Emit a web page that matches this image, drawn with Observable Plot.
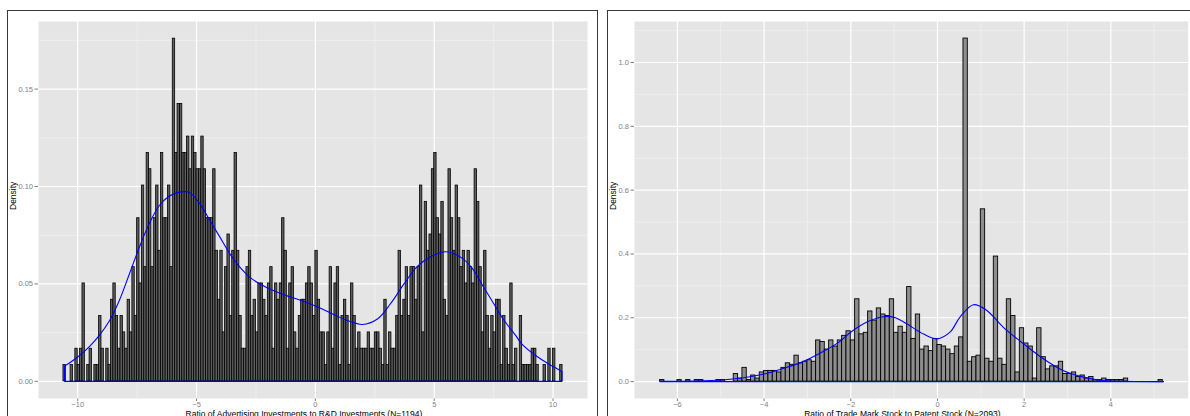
<!DOCTYPE html>
<html><head><meta charset="utf-8">
<script src="https://cdn.jsdelivr.net/npm/d3@7"></script>
<script src="https://cdn.jsdelivr.net/npm/@observablehq/plot@0.6"></script>
<style>
html,body{margin:0;padding:0;background:#fff;}
#wrap{position:relative;width:1190px;height:416px;overflow:hidden;font-family:"Liberation Sans",Arial,Helvetica,sans-serif;}
.frame{position:absolute;border:1.5px solid #3a3a3a;box-sizing:border-box;pointer-events:none;}
.chart{position:absolute;top:0;}
</style></head><body><div id="wrap">
<div class="chart" id="left" style="left:0px"></div>
<div class="chart" id="right" style="left:597px"></div>
<div class="frame" style="left:7px;top:10px;width:591px;height:440px"></div>
<div class="frame" style="left:607px;top:10px;width:600px;height:440px"></div>
</div>
<script>
// ---------- data ----------
const leftTitle = "Ratio of Advertising Investments to R&D Investments (N=1194)";
const rightTitle = "Ratio of Trade Mark Stock to Patent Stock (N=2093)";
const yTitle = "Density";

const leftN = 1194, leftBinStart = -10.6, leftBinWidth = 0.1;
const leftCounts = [
 1,0,0,1,0,2,1,2,6,0,
 1,2,0,1,1,4,2,0,2,1,
 5,6,4,2,4,3,2,5,3,7,
 4,10,6,12,7,14,13,7,10,12,
 8,14,10,10,12,7,21,14,17,17,
 14,14,15,13,15,14,13,13,15,13,
 10,10,10,13,8,5,8,3,7,9,
 4,8,14,8,4,2,2,7,8,4,
 5,3,6,6,5,4,6,7,2,6,
 5,6,10,8,2,6,7,3,2,4,
 5,5,6,7,6,4,8,5,3,3,
 1,3,7,2,6,7,1,4,5,4,
 1,6,4,2,3,2,2,2,3,2,
 2,3,3,2,1,5,1,3,2,2,
 4,8,4,5,7,4,7,7,5,7,
 12,3,11,8,9,13,14,10,9,11,
 5,4,13,10,8,12,10,7,8,6,
 8,7,6,13,11,7,3,8,4,2,
 4,3,5,5,1,4,2,1,6,1,
 2,0,4,1,1,1,1,2,2,1,
 0,0,1,0,2,0,2,0,0,1];
const leftCurveX = [-10.55,-10.0,-9.5,-9.1,-8.67,-8.25,-7.83,-7.41,-7.0,-6.58,-6.16,-5.75,-5.5,-5.3,-4.85,-4.43,-4.01,-3.59,-3.17,-2.75,-2.33,-1.77,-1.21,-0.66,0.0,0.66,1.35,1.98,2.61,3.17,3.73,4.29,4.85,5.5,6.2,6.6,7.0,7.5,7.9,8.4,8.7,9.3,9.8,10.3,10.37];
const leftCurveY = [0.0078,0.0125,0.018,0.0235,0.031,0.0415,0.055,0.0687,0.0807,0.090,0.095,0.097,0.0974,0.097,0.091,0.0824,0.0739,0.0653,0.0585,0.0534,0.050,0.0466,0.044,0.0418,0.0387,0.035,0.0312,0.0292,0.032,0.040,0.050,0.059,0.064,0.0665,0.063,0.058,0.050,0.040,0.032,0.024,0.019,0.013,0.009,0.0056,0.005];

const rightN = 2093, rightBinStart = -6.4, rightBinWidth = 0.1;
const rightCounts = [
 1,0,0,0,1,0,1,0,1,1,
 0,0,0,1,1,0,0,5,2,9,
 1,4,2,6,7,7,7,6,9,12,
 11,17,12,13,14,13,27,26,21,27,
 23,27,30,33,27,54,31,32,46,40,
 48,44,43,54,32,36,32,62,28,44,
 21,23,20,28,24,23,21,18,23,29,
 225,13,16,17,113,15,13,82,15,11,
 54,43,6,35,25,23,2,35,16,8,
 10,10,13,5,5,6,3,4,2,3,
 1,1,2,1,1,1,1,2,0,0,
 0,0,0,0,0,1];
const rightCurveX = [-6.4,-5.59,-4.97,-4.51,-4.05,-3.59,-3.13,-2.67,-2.28,-1.98,-1.59,-1.21,-0.97,-0.71,-0.32,-0.01,0.29,0.52,0.83,1.14,1.52,1.99,2.45,2.91,3.37,3.83,4.29,5.21];
const rightCurveY = [0.001,0.002,0.005,0.011,0.022,0.040,0.061,0.092,0.123,0.157,0.189,0.204,0.200,0.181,0.149,0.134,0.155,0.202,0.241,0.223,0.170,0.118,0.071,0.034,0.014,0.003,0.001,0.0];

const leftXTicks = [-10,-5,0,5,10], leftXMinor = [-7.5,-2.5,2.5,7.5];
const leftYTicks = [0,0.05,0.10,0.15], leftYMinor = [0.025,0.075,0.125,0.175];
const rightXTicks = [-6,-4,-2,0,2,4], rightXMinor = [-5,-3,-1,1,3,5];
const rightYTicks = [0,0.2,0.4,0.6,0.8,1.0], rightYMinor = [0.1,0.3,0.5,0.7,0.9,1.1];

// ---------- helpers ----------
function toBins(counts, start, w, n) {
  return counts.map((c, i) => ({x1: start + i * w, x2: start + (i + 1) * w, y1: 0, y2: c / (n * w)}));
}
function toCurve(xs, ys) { return xs.map((x, i) => ({x, y: ys[i]})); }
function closing(xs, ys) {
  const n = xs.length;
  return [{x: xs[n-1], y: ys[n-1]}, {x: xs[n-1], y: 0}, {x: xs[0], y: 0}, {x: xs[0], y: ys[0]}];
}

function panel(o) {
  return Plot.plot({
    width: o.width, height: 416,
    marginLeft: o.ml, marginRight: o.mr, marginTop: 21, marginBottom: 18,
    style: {background: "transparent", color: "#7f7f7f", fontSize: "7.5px", fontFamily: "'Liberation Sans', Arial, sans-serif"},
    x: {domain: o.xd, ticks: o.xt, tickSize: 3, tickPadding: 0, label: null, tickFormat: d3.format("d")},
    y: {domain: o.yd, ticks: o.yt, tickSize: 3.5, tickPadding: 2, label: null, tickFormat: d3.format(o.yf)},
    marks: [
      Plot.frame({fill: "#e5e5e5", stroke: "none"}),
      Plot.ruleX(o.xm, {stroke: "#f2f2f2", strokeWidth: 0.7}),
      Plot.ruleY(o.ym, {stroke: "#f2f2f2", strokeWidth: 0.7}),
      Plot.ruleX(o.xt, {stroke: "#ffffff", strokeWidth: 1.2}),
      Plot.ruleY(o.yt, {stroke: "#ffffff", strokeWidth: 1.2}),
      Plot.rect(o.bins, {x1: "x1", x2: "x2", y1: "y1", y2: "y2", fill: o.fill, stroke: "#000", strokeWidth: o.sw}),
      Plot.line(o.curve, {x: "x", y: "y", stroke: "#0000ff", strokeWidth: 1.1, curve: "catmull-rom"}),
      Plot.line(o.close, {x: "x", y: "y", stroke: "#0000ff", strokeWidth: 1.3}),
      Plot.text([yTitle], {frameAnchor: "left", dx: o.ydx, rotate: -90, fill: "#000", fontSize: 8.5, text: d => d}),
      Plot.text([o.title], {frameAnchor: "bottom", dy: 12, dx: -9, lineAnchor: "top", textAnchor: "middle", fill: "#000", fontSize: 8.5, text: d => d})
    ]
  });
}

document.getElementById("left").appendChild(panel({
  width: 597, ml: 38, mr: 10,
  xd: [-11.65, 11.45], yd: [-0.0088, 0.1847],
  xt: leftXTicks, xm: leftXMinor, yt: leftYTicks, ym: leftYMinor, yf: ".2f",
  bins: toBins(leftCounts, leftBinStart, leftBinWidth, leftN),
  curve: toCurve(leftCurveX, leftCurveY), close: closing(leftCurveX, leftCurveY),
  fill: "#5e5e5e", sw: 0.8, ydx: -25.5, title: leftTitle
}));
document.getElementById("right").appendChild(panel({
  width: 593, ml: 37, mr: 2.3,
  xd: [-6.99, 5.785], yd: [-0.053, 1.1285],
  xt: rightXTicks, xm: rightXMinor, yt: rightYTicks, ym: rightYMinor, yf: ".1f",
  bins: toBins(rightCounts, rightBinStart, rightBinWidth, rightN),
  curve: toCurve(rightCurveX, rightCurveY), close: closing(rightCurveX, rightCurveY),
  fill: "#8e8e8e", sw: 0.9, ydx: -21, title: rightTitle
}));
</script>
</body></html>
